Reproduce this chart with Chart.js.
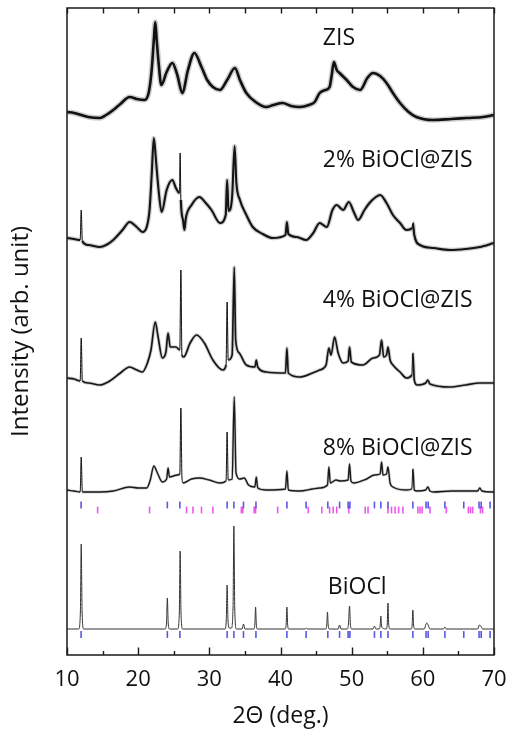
<!DOCTYPE html>
<html>
<head>
<meta charset="utf-8">
<script src="https://cdn.jsdelivr.net/npm/chart.js@4/dist/chart.umd.min.js"></script>
<style>
  html, body { margin: 0; padding: 0; background: #ffffff; }
  #wrap { width: 511px; height: 733px; position: relative; }
</style>
</head>
<body>
<div id="wrap"><canvas id="xrd" width="511" height="733"></canvas></div>
<script>
// XRD patterns, [2θ (deg.), stacked intensity (arb. unit)]
const zisPattern = [
  [10,543],[11,542],[12,540],[13,538],[14.6,537],[15.5,540],[16.5,545],[17.5,551],[18.8,558],[19.8,556],
  [20.9,555],[21.5,563],[21.9,585],[22.2,615],[22.4,633],[22.6,615],[22.9,590],[23.25,570],[24.0,583],[24.8,592],
  [25.5,580],[26.2,562],[27.0,585],[27.9,602],[28.9,588],[29.7,575],[30.5,568],[31.5,565],[32.5,575],[33.6,587],
  [34.3,575],[35.2,562],[36.5,553],[38.0,548],[39.0,550],[40.3,552],[41.5,549],[42.7,548],[44.0,550],[44.8,553],
  [45.5,562],[46.3,565],[46.9,568],[47.2,580],[47.5,593],[47.9,585],[48.3,582],[49.3,575],[50.2,568],[51.2,565],
  [52.2,577],[53.0,582],[54.0,579],[54.9,572],[55.8,562],[56.8,552],[58.0,543],[59.1,538],[61.4,535],[64.0,536],
  [66.2,537],[68.5,538],[70,540]
];
const bioclZis2Pattern = [
  [10,417],[11,416],[11.85,415],[12.0,445],[12.15,414],[13,410],[14.6,408],[15.5,410],[16.5,415],[17.8,425],
  [18.8,433],[19.8,428],[20.6,423],[21.2,428],[21.6,445],[21.9,480],[22.2,517],[22.5,495],[22.8,470],[23.3,443],
  [24.0,465],[24.8,475],[25.3,467],[25.8,462],[25.9,502],[26.0,455],[26.3,435],[26.5,425],[26.7,437],[27.5,450],
  [28.6,458],[29.5,452],[30.3,445],[31.5,432],[32.3,440],[32.5,475],[32.7,444],[33.2,458],[33.55,509],[33.8,472],
  [34.3,455],[35.2,440],[36.1,428],[37.5,421],[38.9,417],[40.7,420],[40.9,433],[41.1,421],[42.3,418],[43.6,415],
  [44.6,422],[45.5,432],[46.5,428],[47.3,445],[47.9,450],[48.8,445],[49.6,453],[50.3,443],[50.9,435],[51.8,445],
  [52.5,452],[53.4,458],[54.0,460],[54.9,452],[55.8,440],[56.8,432],[57.7,425],[58.5,427],[58.6,432],[58.8,420],
  [59.6,410],[61.5,407],[63.8,405],[66,406],[68.0,408],[70,412]
];
const bioclZis4Pattern = [
  [10,277],[11,276],[11.85,274],[12.0,317],[12.15,274],[13,272],[14.6,270],[16,274],[17.5,282],[18.8,288],
  [19.8,285],[20.6,283],[21.3,292],[21.8,305],[22.4,333],[22.8,318],[23.4,297],[23.9,303],[24.2,322],[24.5,308],
  [25.3,308],[25.85,305],[26.0,385],[26.15,300],[26.4,298],[27.3,312],[28.2,320],[29.3,312],[30.5,295],[31.9,285],
  [32.35,290],[32.5,353],[32.65,295],[33.2,300],[33.5,388],[33.7,315],[34.2,302],[35.2,290],[36.4,288],[36.6,295],
  [36.8,288],[38.0,283],[40.7,282],[40.9,307],[41.1,282],[42.7,278],[44.5,282],[45.5,285],[46.4,290],[46.8,307],
  [47.1,300],[47.6,318],[48.1,302],[48.8,292],[49.5,294],[49.7,308],[49.95,293],[51.6,290],[53.0,297],[53.9,300],
  [54.2,315],[54.5,298],[54.9,300],[55.1,308],[55.4,295],[55.8,290],[56.8,283],[57.7,277],[58.45,280],[58.6,302],
  [58.8,275],[59.2,270],[60.4,272],[60.7,275],[61.0,271],[63.8,268],[66,270],[68,272],[70,272]
];
const bioclZis8Pattern = [
  [10,165],[11,164],[11.85,163],[12.0,198],[12.15,163],[13,163],[14.6,163],[16.5,164],[18.8,168],[20.0,167],
  [21.2,167],[21.7,175],[22.2,189],[22.7,182],[23.4,173],[24.0,176],[24.2,187],[24.4,178],[25.5,180],[25.85,181],
  [26.0,247],[26.15,178],[26.3,172],[27.5,176],[28.6,177],[30,175],[31.5,172],[32.35,174],[32.5,223],[32.65,175],
  [33.2,176],[33.5,258],[33.75,182],[34.3,176],[34.9,177],[35.5,170],[36.4,168],[36.6,178],[36.8,167],[38.0,165],
  [40.7,166],[40.9,184],[41.1,165],[42.7,164],[44.5,166],[45.5,167],[46.6,170],[46.8,188],[47.0,172],[47.8,175],
  [48.4,174],[49.5,175],[49.7,191],[49.9,174],[50.3,172],[52.1,176],[53.2,180],[54.0,181],[54.2,193],[54.4,180],
  [54.9,181],[55.1,188],[55.4,172],[55.8,168],[57.7,165],[58.45,166],[58.6,186],[58.8,165],[59.2,164],[60.4,165],
  [60.7,168],[61.0,164],[61.5,163],[64,164],[67.7,164],[68.0,167],[68.3,164],[70,163]
];
const bioclPattern = [
  [10,26],[11.65,26],[11.88,43],[12.0,111],[12.12,43],[12.35,26],
  [23.8,26],[23.98,32],[24.1,57],[24.22,32],[24.4,26],
  [25.55,26],[25.78,42],[25.9,104],[26.02,42],[26.25,26],
  [32.2,26],[32.38,35],[32.5,70],[32.62,35],[32.8,27],
  [33.1,27],[33.33,47],[33.45,129],[33.57,47],[33.8,26],
  [34.6,26],[34.8,31],[35.0,26],
  [36.25,26],[36.4,31],[36.5,48],[36.6,31],[36.75,26],
  [40.65,26],[40.8,31],[40.9,48],[41.0,31],[41.15,26],
  [43.45,26],[43.6,27],[43.75,26],
  [46.35,26],[46.5,30],[46.6,43],[46.7,30],[46.85,26],
  [48.1,26],[48.3,30],[48.5,26],
  [49.4,26],[49.55,31],[49.7,49],[49.82,31],[50.0,26],
  [53.0,26],[53.2,29],[53.4,26],
  [53.85,26],[54.0,29],[54.1,39],[54.2,29],[54.35,27],
  [54.85,26],[55.0,31],[55.1,52],[55.2,31],[55.4,26],
  [58.35,26],[58.5,30],[58.6,45],[58.7,30],[58.9,26],
  [60.2,26],[60.45,31],[60.55,32],[60.75,30],[61.0,26],
  [62.9,26],[63.1,28],[63.3,26],
  [67.7,26],[67.95,30],[68.15,29],[68.4,26],
  [70,26]
];

// Reference line positions (2θ)
const bioclRefLines = [11.98, 24.1, 25.86, 32.5, 33.45, 34.8, 36.55, 40.9, 43.6, 46.65, 48.3, 49.5, 49.75,
  53.2, 54.1, 55.1, 58.6, 60.45, 60.75, 63.1, 65.75, 67.9, 68.2, 69.45];
const zisRefLines = [14.3, 21.6, 26.8, 27.7, 28.9, 30.5, 34.5, 34.7, 36.3, 36.5, 39.6, 43.9, 45.8, 46.9, 47.4,
  47.9, 49.6, 51.9, 52.3, 55.1, 55.6, 56.1, 56.6, 57.2, 59.3, 59.6, 59.9, 61.0, 63.3, 66.4, 66.7, 67.0, 68.1, 68.4];

// Sample names
const sampleNames = ['ZIS', '2% BiOCl@ZIS', '4% BiOCl@ZIS', '8% BiOCl@ZIS', 'BiOCl'];
const xTickValues = [10, 20, 30, 40, 50, 60, 70];

// Layout for the stacked panel
const refRowLevels = { upperBiOCl: 150, upperZIS: 145, lowerBiOCl: 20.5 };
const namePlacement = [
  { x: 45.95, y: 617 }, { x: 45.95, y: 495 }, { x: 45.95, y: 355 }, { x: 45.95, y: 207 }, { x: 46.65, y: 68 }
];

const FONT = '"Open Sans", "Liberation Sans", sans-serif';
const INK = '#111111';

const traces = [zisPattern, bioclZis2Pattern, bioclZis4Pattern, bioclZis8Pattern, bioclPattern];
// measured traces carry counting noise: a faint fuzz under a solid core line;
// narrow reflections (closely spaced points) stay hairline-thin
const haloWidths = [5.5, 4.5, 3.6, 2.8, 0];
const coreWidths = [2.6, 2.1, 1.7, 1.4, 1];
const coreColors = ['#111111', '#141414', '#161616', '#1a1a1a', '#333333'];

function narrowSegment(ctx) {
  return Math.abs(ctx.p1.x - ctx.p0.x) < 1.3;
}

const datasets = [];
traces.forEach((t, i) => {
  if (haloWidths[i] > 0) {
    datasets.push({
      type: 'line',
      data: t,
      borderColor: 'rgba(30,30,30,0.22)',
      borderWidth: haloWidths[i],
      pointRadius: 0,
      cubicInterpolationMode: 'monotone',
      fill: false,
      segment: { borderWidth: c => narrowSegment(c) ? 1 : haloWidths[i] },
      order: 3
    });
  }
  datasets.push({
    type: 'line',
    label: sampleNames[i],
    data: t,
    borderColor: coreColors[i],
    borderWidth: coreWidths[i],
    pointRadius: 0,
    cubicInterpolationMode: 'monotone',
    fill: false,
    segment: { borderWidth: c => narrowSegment(c) ? 1 : coreWidths[i] },
    order: 2
  });
});

function refRow(lines, level, color) {
  return {
    type: 'scatter',
    data: lines.map(v => ({ x: v, y: level })),
    pointStyle: 'line',
    rotation: 90,
    pointRadius: 3.4,
    pointBorderWidth: 1.6,
    pointBorderColor: color,
    pointBackgroundColor: color,
    showLine: false,
    order: 1
  };
}
const BLUE = 'rgb(88, 88, 228)';
const MAGENTA = 'rgb(236, 88, 236)';
datasets.push(refRow(bioclRefLines, refRowLevels.upperBiOCl, BLUE));
datasets.push(refRow(zisRefLines, refRowLevels.upperZIS, MAGENTA));
datasets.push(refRow(bioclRefLines, refRowLevels.lowerBiOCl, BLUE));

// Plot frame with inward ticks on top and bottom edges, and sample names
const framePlugin = {
  id: 'frame',
  afterDatasetsDraw(chart) {
    const { ctx, chartArea: a, scales } = chart;
    const xs = scales.x, ys = scales.y;
    ctx.save();
    ctx.strokeStyle = '#1a1a1a';
    ctx.lineWidth = 1.5;
    ctx.strokeRect(a.left, a.top, a.right - a.left, a.bottom - a.top);
    ctx.lineWidth = 1.4;
    for (let v = 10; v <= 70; v += 5) {
      const px = Math.round(xs.getPixelForValue(v)) + 0.5;
      const major = v % 10 === 0;
      ctx.beginPath();
      ctx.moveTo(px, a.bottom);
      ctx.lineTo(px, a.bottom - (major ? 7.5 : 4));
      ctx.moveTo(px, a.top);
      ctx.lineTo(px, a.top + 5.5);
      ctx.stroke();
    }
    ctx.fillStyle = INK;
    ctx.font = '23px ' + FONT;
    ctx.textAlign = 'left';
    ctx.textBaseline = 'middle';
    sampleNames.forEach((name, i) => {
      const p = namePlacement[i];
      ctx.fillText(name, xs.getPixelForValue(p.x), ys.getPixelForValue(p.y));
    });
    ctx.restore();
  }
};

new Chart(document.getElementById('xrd'), {
  data: { datasets },
  options: {
    responsive: false,
    animation: false,
    events: [],
    layout: { padding: { top: 8, right: 17, left: 0, bottom: 0 } },
    plugins: { legend: { display: false }, tooltip: { enabled: false } },
    scales: {
      x: {
        type: 'linear',
        min: 10, max: 70,
        afterBuildTicks: s => { s.ticks = xTickValues.map(v => ({ value: v })); },
        afterFit: s => { s.height = 78; s.paddingLeft = 0; s.paddingRight = 0; },
        grid: { display: false, drawTicks: false },
        border: { display: false },
        ticks: { color: INK, font: { family: FONT, size: 22, lineHeight: 1.2 }, padding: 12, maxRotation: 0, autoSkip: false },
        title: { display: true, text: '2Θ (deg.)', color: INK, font: { family: FONT, size: 23, lineHeight: 1.2 }, padding: { top: 0, bottom: 3 } }
      },
      y: {
        type: 'linear',
        min: 0, max: 647,
        afterFit: s => { s.width = 67; },
        grid: { display: false, drawTicks: false },
        border: { display: false },
        ticks: { display: false },
        title: { display: true, text: 'Intensity (arb. unit)', color: INK, font: { family: FONT, size: 24, lineHeight: 1.2 }, padding: { top: 7, bottom: 0 } }
      }
    }
  },
  plugins: [framePlugin]
});
</script>
</body>
</html>
